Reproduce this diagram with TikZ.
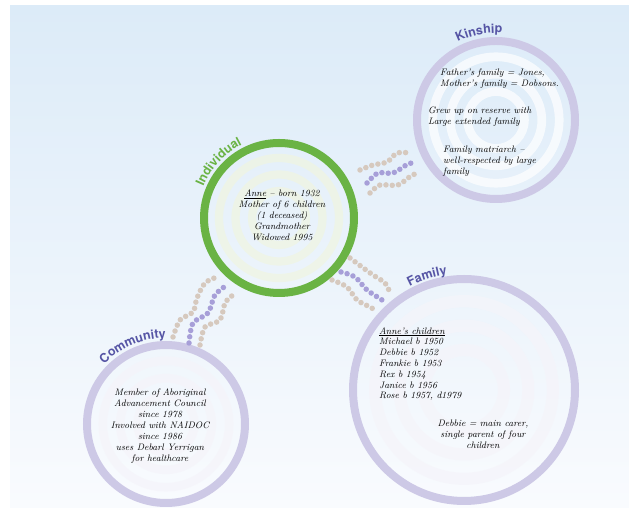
\documentclass[tikz,border=0pt]{standalone}
\usepackage{fontspec}
\setsansfont{TeX Gyre Heros}
\usetikzlibrary{decorations.text}

\definecolor{skytop}{HTML}{DCEBF8}
\definecolor{skybot}{HTML}{F9FBFE}
\definecolor{leafgreen}{HTML}{6AB344}
\definecolor{lilac}{HTML}{CDC9E6}
\definecolor{inkblue}{HTML}{5655A5}
\definecolor{sand}{HTML}{D6C9BE}
\definecolor{lavdot}{HTML}{A79FD8}
\definecolor{palelime}{HTML}{F0F5E0}

\tikzset{
  ring/.style={circle, draw=lilac, line width=8pt, inner sep=0pt},
  band/.style={draw=#1, opacity=0.7},
  note/.style={font=\itshape\fontsize{9.4}{11}\selectfont, inner sep=0pt},
  dots/.style={draw=#1, line width=5.5pt, line cap=round, dash pattern=on 0pt off 6.3pt},
  tag/.style={decorate, decoration={text along path, text align=center,
      text={|\sffamily\bfseries\fontsize{12.5}{12.5}\selectfont\color{#1}|\labeltext}}}
}

\begin{document}
\begin{tikzpicture}[x=1pt, y=1pt]
  \useasboundingbox (0,0) rectangle (629,508);
  \shade[top color=skytop, bottom color=skybot] (10,0) rectangle (629,502);

  % circles
  \node[ring, draw=leafgreen, minimum size=150pt] (individual) at (279,290) {};
  \node[ring, minimum size=158pt] (kinship) at (496,388) {};
  \node[ring, minimum size=222pt] (family) at (464,118) {};
  \node[ring, minimum size=158pt] (community) at (166,84) {};

  % faint inner bands
  \foreach \f in {0.8,0.58,0.36}
    \draw[band=palelime, line width=0.11*75pt] (individual.center) circle[radius=\f*75];
  \foreach \f in {0.8,0.58,0.36}
    \draw[band=white, line width=0.11*79pt] (kinship.center) circle[radius=\f*79];
  \foreach \n/\r in {family/111, community/79}
    \foreach \f in {0.8,0.58,0.36}
      \draw[band=lilac!20, line width=0.11*\r pt] (\n.center) circle[radius=\f*\r];

  % labels along the rings
  \def\labeltext{Individual}
  \path[tag=leafgreen] ([shift={(162:82)}]individual.center) arc[start angle=162, end angle=112, radius=82];
  \def\labeltext{Kinship}
  \path[tag=inkblue] ([shift={(125:87)}]kinship.center) arc[start angle=125, end angle=77, radius=87];
  \def\labeltext{Family}
  \path[tag=inkblue] ([shift={(122:117)}]family.center) arc[start angle=122, end angle=94, radius=117];
  \def\labeltext{Community}
  \path[tag=inkblue] ([shift={(140:86)}]community.center) arc[start angle=140, end angle=86, radius=86];

  % dotted links
  \draw[dots=sand] plot[smooth] coordinates {(360,338) (373,343) (387,346) (397,355) (410,355)};
  \draw[dots=lavdot] plot[smooth] coordinates {(367,325) (378,335) (393,335) (408,344) (415,345)};
  \draw[dots=sand] plot[smooth] coordinates {(370,315) (380,323) (398,323) (412,333) (417,334)};

  \draw[dots=sand] plot[smooth] coordinates {(173,171) (180,188) (193,196) (197,210) (205,225) (217,231)};
  \draw[dots=lavdot] plot[smooth] coordinates {(189,165) (193,185) (208,195) (215,213) (227,223)};
  \draw[dots=sand] plot[smooth] coordinates {(200,163) (205,181) (220,188) (225,205) (233,213)};

  \draw[dots=sand] plot[smooth] coordinates {(350,250) (362,241) (373,233) (385,225) (390,215)};
  \draw[dots=lavdot] plot[smooth] coordinates {(341,236) (355,231) (367,218) (382,208) (384,205)};
  \draw[dots=sand] plot[smooth] coordinates {(332,228) (347,221) (357,208) (370,201) (375,198)};

  % texts
  \node[note, align=center] (anne) at (282,293)
    {\underline{Anne} -- born 1932\\Mother of 6 children\\(1 deceased)\\Grandmother\\Widowed 1995};
  \node[note, align=left, anchor=west] (surnames) at (440,429.5)
    {Father's family = Jones,\\Mother's family = Dobsons.};
  \node[note, align=left, anchor=west] (reserve) at (428,391)
    {Grew up on reserve with\\Large extended family};
  \node[note, align=left, anchor=west] (matriarch) at (443,347)
    {Family matriarch --\\well-respected by large\\family};
  \node[note, font=\itshape\fontsize{9.4}{10.8}\selectfont, align=left, anchor=west] (children) at (379,144)
    {\underline{Anne's children}\\Michael b 1950\\Debbie b 1952\\Frankie b 1953\\Rex b 1954\\Janice b 1956\\Rose b 1957, d1979};
  \node[note, align=center] (carer) at (483,74)
    {Debbie = main carer,\\single parent of four\\children};
  \node[note, align=center] (council) at (160,82)
    {Member of Aboriginal\\Advancement Council\\since 1978\\Involved with NAIDOC\\since 1986\\uses Debarl Yerrigan\\for healthcare};
\end{tikzpicture}
\end{document}
